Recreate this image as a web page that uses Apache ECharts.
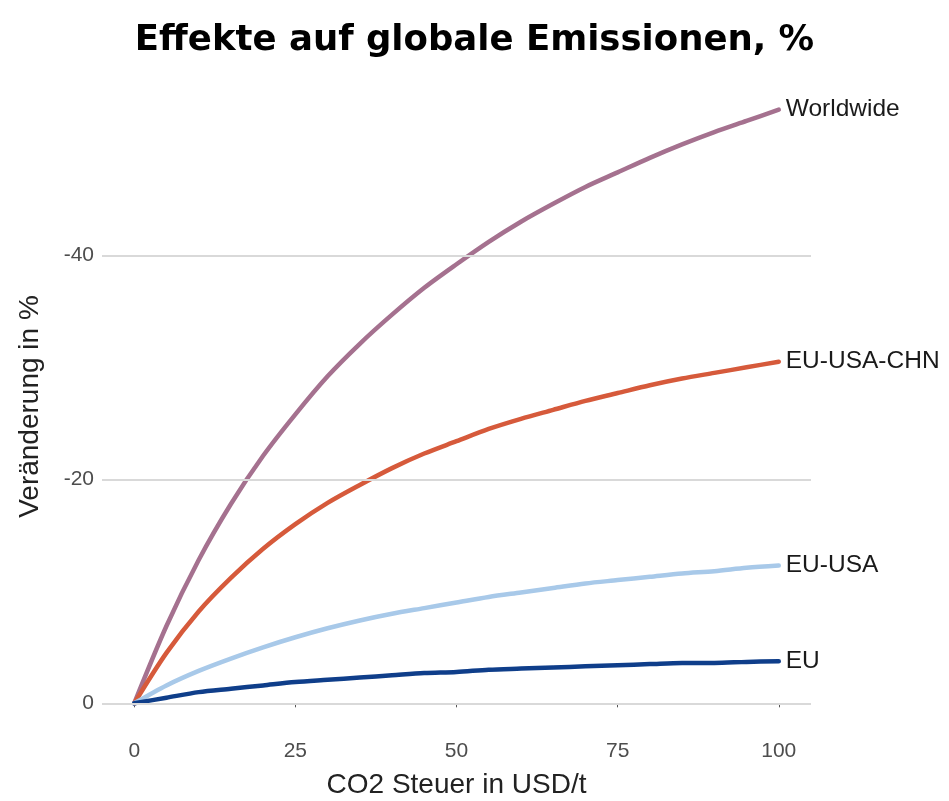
<!DOCTYPE html>
<html>
<head>
<meta charset="utf-8">
<script src="https://cdn.jsdelivr.net/npm/echarts@6/dist/echarts.min.js"></script>
<style>
html,body{margin:0;padding:0;background:#fff;}
#main{width:949px;height:801px;}
</style>
</head>
<body>
<div id="main"></div>
<script>
const title = 'Effekte auf globale Emissionen, %';
const xName = 'CO2 Steuer in USD/t';
const yName = 'Veränderung in %';
const taxLevels = [0,5,10,15,20,25,30,35,40,45,50,55,60,65,70,75,80,85,90,95,100];
const worldwide = [0,-6.9,-12.8,-17.8,-22.1,-25.8,-29.2,-32.1,-34.7,-37.1,-39.2,-41.2,-43.0,-44.6,-46.1,-47.4,-48.7,-49.9,-51.0,-52.0,-53.0];
const euUsaChn = [0,-4.5,-8.2,-11.2,-13.8,-16.0,-17.9,-19.5,-21.0,-22.3,-23.4,-24.5,-25.4,-26.2,-27.0,-27.7,-28.4,-29.0,-29.5,-30.0,-30.5];
const euUsa = [0,-1.6,-2.9,-4.0,-5.0,-5.9,-6.7,-7.4,-8.0,-8.5,-9.0,-9.5,-9.9,-10.3,-10.7,-11.0,-11.3,-11.6,-11.8,-12.1,-12.3];
const eu = [0,-0.5,-1.0,-1.3,-1.6,-1.9,-2.1,-2.3,-2.5,-2.7,-2.8,-3.0,-3.1,-3.2,-3.3,-3.4,-3.5,-3.6,-3.6,-3.7,-3.75];
const xTicks = [0,25,50,75,100];
const yTicks = [-40,-20,0];

const seriesDefs = [
  {name:'Worldwide', data:worldwide, color:'#a5718f'},
  {name:'EU-USA-CHN', data:euUsaChn, color:'#d65a3b'},
  {name:'EU-USA', data:euUsa, color:'#a8c9e9'},
  {name:'EU', data:eu, color:'#0f3e8a'}
];

const chart = echarts.init(document.getElementById('main'));
const series = [{
  type:'line', data:[], silent:true,
  markLine:{
    silent:true, symbol:['none','none'], label:{show:false},
    lineStyle:{color:'#d9d9d9', width:2, type:'solid'},
    data: yTicks.map(v => ({yAxis:v}))
  }
}].concat(seriesDefs.map(s => ({
  name:s.name, type:'line', smooth:0.3, showSymbol:false, symbol:'none',
  data: taxLevels.map((x,i)=>[x, s.data[i]]),
  lineStyle:{color:s.color, width:4.5, cap:'round'},
  itemStyle:{color:s.color},
  endLabel:{show:true, formatter:s.name, color:'#1a1a1a', fontSize:24.5,
    fontFamily:'Liberation Sans', distance:7},
  z:3
})));

chart.setOption({
  animation:false,
  backgroundColor:'#fff',
  title:{text:title, left:'center', top:18,
    textStyle:{fontFamily:'DejaVu Sans', fontWeight:'bold', fontSize:35.5, color:'#000'}},
  grid:{left:102, right:138, top:80, bottom:68, containLabel:false, outerBoundsMode:'none'},
  xAxis:{type:'value', min:-5, max:105,
    name:xName, nameLocation:'middle', nameGap:38,
    nameTextStyle:{fontFamily:'Liberation Sans', fontSize:28, color:'#222'},
    axisLine:{show:false},
    axisTick:{show:true, customValues:xTicks, length:4, lineStyle:{color:'#555'}},
    axisLabel:{customValues:xTicks, fontFamily:'Liberation Sans', fontSize:21, color:'#4d4d4d', margin:8},
    splitLine:{show:false}},
  yAxis:{type:'value', min:-55.65, max:2.65, inverse:true,
    name:yName, nameLocation:'middle', nameGap:58,
    nameTextStyle:{fontFamily:'Liberation Sans', fontSize:28, color:'#222'},
    axisLine:{show:false},
    axisTick:{show:true, customValues:yTicks, length:4, lineStyle:{color:'#555'}},
    axisLabel:{customValues:yTicks, fontFamily:'Liberation Sans', fontSize:21, color:'#4d4d4d', margin:8},
    splitLine:{show:false}},
  series:series
});
</script>
</body>
</html>
